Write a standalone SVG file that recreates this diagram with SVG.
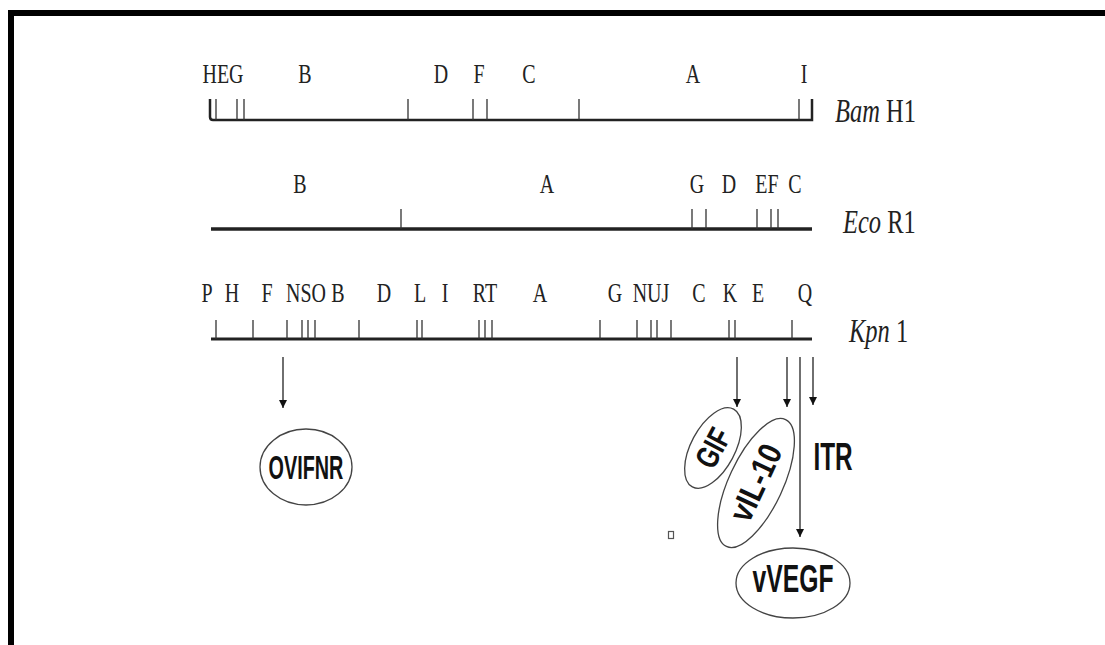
<svg xmlns="http://www.w3.org/2000/svg" width="1105" height="645" viewBox="0 0 1105 645">
<defs>
<style>
.site{font-family:"Liberation Serif","Times New Roman",serif;font-size:27px;fill:#222;text-anchor:middle}
.row{font-family:"Liberation Serif","Times New Roman",serif;font-size:34px;fill:#222}
.map{stroke:#222;fill:none;stroke-linecap:butt}
.tick{stroke:#333;stroke-width:1.3;fill:none}
.arrow{stroke:#222;stroke-width:1.3;fill:none}
.oval{stroke:#444;stroke-width:1.3;fill:#fff}
.lbl{font-family:"Liberation Sans",Arial,sans-serif;font-weight:bold;fill:#111;text-anchor:middle}
</style>
<marker id="ah" viewBox="0 0 10 10" refX="10" refY="5" markerWidth="8" markerHeight="15" markerUnits="userSpaceOnUse" orient="auto">
<path d="M0,0 L10,5 L0,10 Z" fill="#111"/>
</marker>
</defs>
<rect width="1105" height="645" fill="#fff"/>
<path d="M11,645 V13 H1105" fill="none" stroke="#000" stroke-width="6"/>

<g id="bamh1">
<path class="map" stroke-width="2.5" d="M210,99 V117 Q210,120 213,120 H812 V99"/>
<path class="tick" d="M216,99V120 M237,99V120 M244,99V120 M408,99V120 M473,99V120 M487,99V120 M579,99V120 M799,99V120"/>
<text class="site" transform="translate(223 83) scale(0.74 1)">HEG</text>
<text class="site" transform="translate(305 83) scale(0.74 1)">B</text>
<text class="site" transform="translate(441 83) scale(0.74 1)">D</text>
<text class="site" transform="translate(479 83) scale(0.74 1)">F</text>
<text class="site" transform="translate(529 83) scale(0.74 1)">C</text>
<text class="site" transform="translate(693 83) scale(0.74 1)">A</text>
<text class="site" transform="translate(804 83) scale(0.74 1)">I</text>
<text class="row" transform="translate(835 122) scale(0.72 1)"><tspan font-style="italic">Bam</tspan> H1</text>
</g>

<g id="ecor1">
<path class="map" stroke-width="3.5" d="M211,229 H812"/>
<path class="tick" d="M401,209V229 M692,209V229 M706,209V229 M757,209V229 M771,209V229 M778,209V229"/>
<text class="site" transform="translate(300 193) scale(0.74 1)">B</text>
<text class="site" transform="translate(547 193) scale(0.74 1)">A</text>
<text class="site" transform="translate(697 193) scale(0.74 1)">G</text>
<text class="site" transform="translate(729 193) scale(0.74 1)">D</text>
<text class="site" transform="translate(767 193) scale(0.74 1)">EF</text>
<text class="site" transform="translate(795 193) scale(0.74 1)">C</text>
<text class="row" transform="translate(843 233) scale(0.72 1)"><tspan font-style="italic">Eco</tspan> R1</text>
</g>

<g id="kpn1">
<path class="map" stroke-width="3" d="M211,339 H812"/>
<path class="tick" d="M216,320V339 M253,320V339 M287,320V339 M302,320V339 M308,320V339 M315,320V339 M359,320V339 M417,320V339 M422,320V339 M479,320V339 M485,320V339 M492,320V339 M600,320V339 M637,320V339 M651,320V339 M657,320V339 M671,320V339 M729,320V339 M735,320V339 M792,320V339"/>
<text class="site" transform="translate(207 302) scale(0.74 1)">P</text>
<text class="site" transform="translate(232 302) scale(0.74 1)">H</text>
<text class="site" transform="translate(267 302) scale(0.74 1)">F</text>
<text class="site" transform="translate(306 302) scale(0.74 1)">NSO</text>
<text class="site" transform="translate(338 302) scale(0.74 1)">B</text>
<text class="site" transform="translate(384 302) scale(0.74 1)">D</text>
<text class="site" transform="translate(420 302) scale(0.74 1)">L</text>
<text class="site" transform="translate(445 302) scale(0.74 1)">I</text>
<text class="site" transform="translate(485 302) scale(0.74 1)">RT</text>
<text class="site" transform="translate(540 302) scale(0.74 1)">A</text>
<text class="site" transform="translate(615 302) scale(0.74 1)">G</text>
<text class="site" transform="translate(651 302) scale(0.74 1)">NUJ</text>
<text class="site" transform="translate(699 302) scale(0.74 1)">C</text>
<text class="site" transform="translate(730 302) scale(0.74 1)">K</text>
<text class="site" transform="translate(758 302) scale(0.74 1)">E</text>
<text class="site" transform="translate(805 302) scale(0.74 1)">Q</text>
<text class="row" transform="translate(849 342) scale(0.72 1)"><tspan font-style="italic">Kpn</tspan> 1</text>
</g>

<g id="connectors">
<line class="arrow" x1="283" y1="357" x2="283" y2="408" marker-end="url(#ah)"/>
<line class="arrow" x1="737" y1="357" x2="737" y2="407" marker-end="url(#ah)"/>
<line class="arrow" x1="787" y1="357" x2="787" y2="407" marker-end="url(#ah)"/>
<line class="arrow" x1="800" y1="357" x2="800" y2="537" marker-end="url(#ah)"/>
<line class="arrow" x1="813" y1="357" x2="813" y2="405" marker-end="url(#ah)"/>
</g>

<g id="ovifnr">
<ellipse class="oval" cx="306" cy="467" rx="46" ry="38"/>
<text class="lbl" font-size="33" transform="translate(306 479) scale(0.6 1)">OVIFNR</text>
</g>

<g id="gif">
<ellipse class="oval" cx="0" cy="0" rx="44" ry="22" transform="translate(713 448) rotate(-62)"/>
<text class="lbl" font-size="32" transform="translate(713 448) rotate(-62) translate(0 11) scale(0.75 1)">GIF</text>
</g>

<g id="vil10">
<ellipse class="oval" cx="0" cy="0" rx="70" ry="27" transform="translate(756 483) rotate(-65)"/>
<text class="lbl" font-size="33" transform="translate(756 483) rotate(-65) translate(0 11) scale(0.85 1)">vIL-10</text>
</g>

<g id="itr">
<text class="lbl" font-size="38" transform="translate(833 470) scale(0.64 1)">ITR</text>
</g>

<g id="vvegf">
<ellipse class="oval" cx="793" cy="583" rx="57" ry="35"/>
<text class="lbl" font-size="38" transform="translate(793 592) scale(0.65 1)">vVEGF</text>
</g>

<rect x="668.5" y="531.5" width="5" height="7" fill="none" stroke="#555" stroke-width="1.2"/>
</svg>
